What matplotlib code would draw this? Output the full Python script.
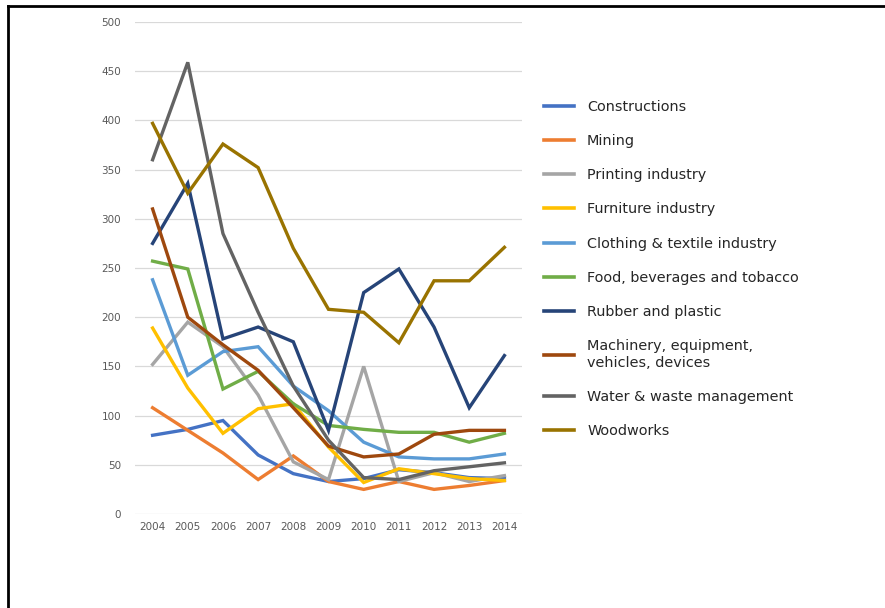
import matplotlib
matplotlib.use('Agg')
import matplotlib.pyplot as plt
from matplotlib.lines import Line2D

years = ['2004', '2005', '2006', '2007', '2008', '2009', '2010', '2011', '2012', '2013', '2014']

constructions = [80, 86, 95, 60, 41, 33, 36, 45, 42, 37, 36]
mining = [108, 85, 62, 35, 59, 33, 25, 33, 25, 29, 34]
printing = [152, 195, 170, 121, 53, 35, 150, 33, 42, 33, 39]
furniture = [189, 128, 82, 107, 112, 68, 32, 46, 41, 36, 34]
clothing = [238, 141, 165, 170, 130, 105, 73, 58, 56, 56, 61]
food = [257, 249, 127, 145, 112, 90, 86, 83, 83, 73, 82]
rubber = [275, 336, 178, 190, 175, 85, 225, 249, 190, 108, 161]
machinery = [310, 200, 172, 146, 108, 69, 58, 61, 81, 85, 85]
water = [360, 459, 285, 205, 130, 75, 37, 35, 44, 48, 52]
woodworks = [397, 326, 376, 352, 270, 208, 205, 174, 237, 237, 271]

labels = ['Constructions', 'Mining', 'Printing industry', 'Furniture industry',
          'Clothing & textile industry', 'Food, beverages and tobacco',
          'Rubber and plastic', 'Machinery, equipment,\nvehicles, devices',
          'Water & waste management', 'Woodworks']
series = [constructions, mining, printing, furniture, clothing, food,
          rubber, machinery, water, woodworks]
colors = ['#4472C4', '#ED7D31', '#A5A5A5', '#FFC000', '#5B9BD5', '#70AD47',
          '#264478', '#9E480E', '#636363', '#997300']

fig = plt.figure(figsize=(8.85, 6.08), dpi=100)
ax = fig.add_axes([135 / 885, 1 - 514 / 608, (522 - 135) / 885, (514 - 22) / 608])

x = list(range(len(years)))
for vals, c, lab in zip(series, colors, labels):
    ax.plot(x, vals, color=c, lw=2.4, label=lab, solid_joinstyle='miter')

ax.set_xlim(-0.5, len(years) - 0.5)
ax.set_ylim(0, 500)
ax.set_yticks(range(0, 501, 50))
ax.set_xticks(x)
ax.set_xticklabels(years)
ax.tick_params(length=0, labelsize=7.5, labelcolor='#595959', pad=6)
ax.tick_params(axis='y', pad=10)
ax.grid(axis='y', color='#D9D9D9', lw=0.9)
ax.set_axisbelow(True)
for s in ax.spines.values():
    s.set_visible(False)

handles = [Line2D([], [], color=c, lw=2.6) for c in colors]
fig.legend(handles, labels, loc='upper left', bbox_to_anchor=(538 / 885, 1 - 94 / 608),
           frameon=False, fontsize=10.4, labelspacing=1.4, handlelength=2.1,
           handletextpad=0.9, labelcolor='#262626', borderaxespad=0)

# black frame at top and left of the picture
fig.add_artist(Line2D([8 / 885, 1], [1 - 6 / 608, 1 - 6 / 608], color='black', lw=2,
                      transform=fig.transFigure))
fig.add_artist(Line2D([8 / 885, 8 / 885], [0, 1 - 6 / 608], color='black', lw=2,
                      transform=fig.transFigure))

fig.savefig('out.png', dpi=100)
